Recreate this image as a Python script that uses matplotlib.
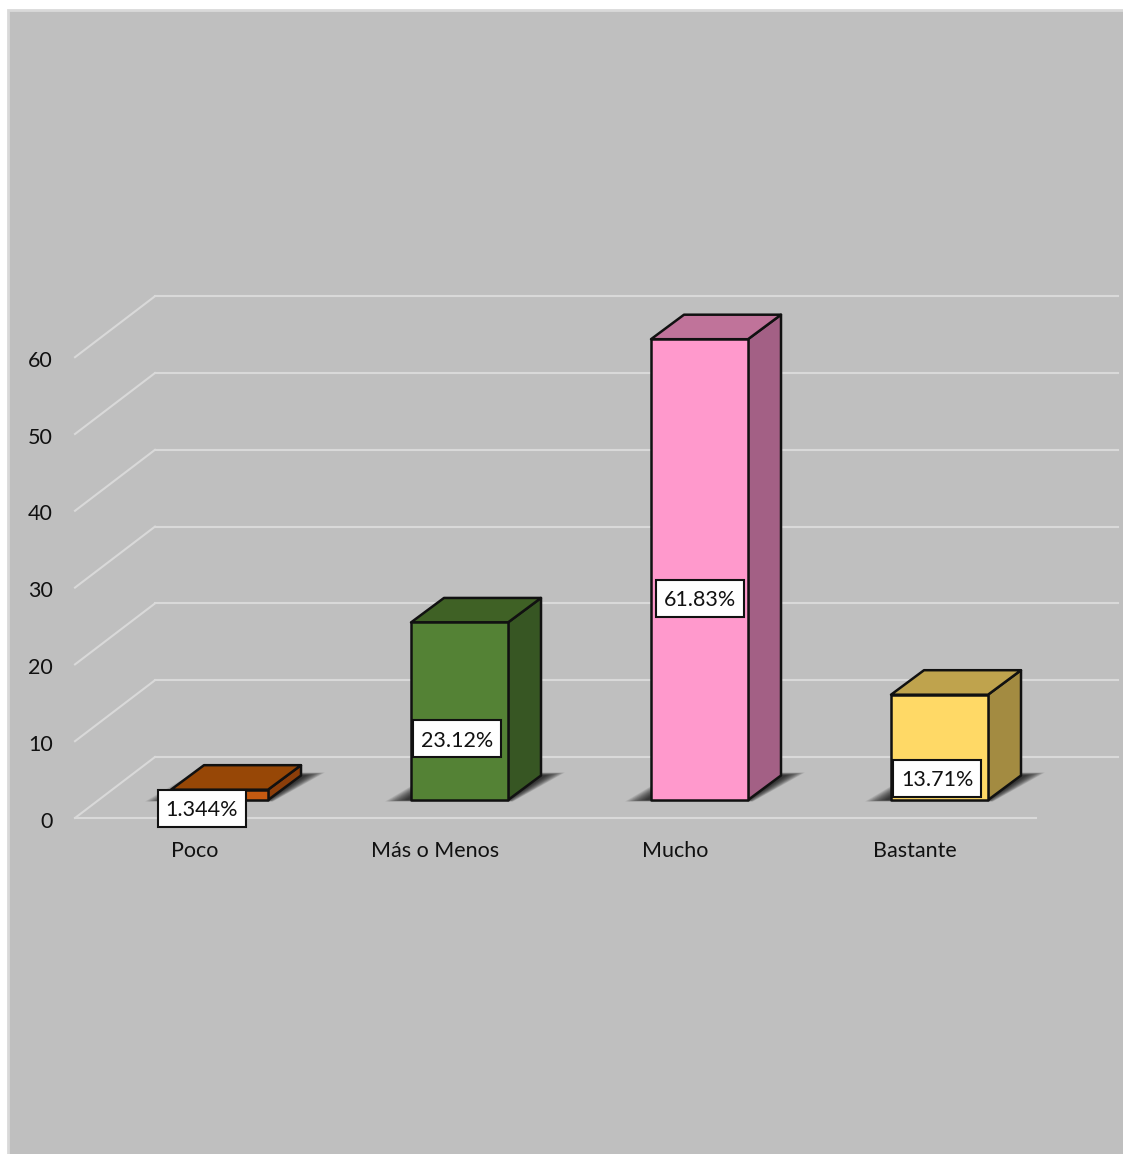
import matplotlib
matplotlib.use("Agg")
import matplotlib.pyplot as plt
from matplotlib.patches import Polygon, Rectangle

plt.rcParams['font.family'] = ['Lato', 'DejaVu Sans']

categories = ["Poco", "Más o Menos", "Mucho", "Bastante"]
values = [1.344, 23.12, 61.83, 13.71]
value_labels = ["1.344%", "23.12%", "61.83%", "13.71%"]
label_heights = [1.3, 10.3, 28.6, 5.2]
label_shift_px = [7, 22, 25, 22]
ticks = [0, 10, 20, 30, 40, 50, 60]
axis_max = 60

front_colors = ["#C55A11", "#548235", "#FF99CC", "#FFD966"]
top_colors = ["#974706", "#3F6125", "#C0739A", "#BFA34D"]
side_colors = ["#8B3E0A", "#375623", "#A36085", "#A38B41"]

W, H = 1123, 1154
X0, STEP = 195, 240     # pixel of first category, pixels per category
Y0, UNIT = 818, 7.68    # pixel of value 0, pixels per value unit
GRID = "#D9D9D9"
BG = "#BFBFBF"
TEXT = "#111111"

fig = plt.figure(figsize=(W / 100, H / 100), dpi=100, facecolor="white")
fig.add_artist(Rectangle((8 / W, -0.01), 1.01, (H - 10) / H + 0.01, transform=fig.transFigure,
                         facecolor=BG, edgecolor=GRID, linewidth=2, zorder=-1))
ax = fig.add_axes([0, 0, 1, 1], facecolor="none")
ax.set_xlim((0 - X0) / STEP, (W - X0) / STEP)
ax.set_ylim((Y0 - H) / UNIT, Y0 / UNIT)
ax.axis("off")

px = 1 / STEP
py = 1 / UNIT
DX, DY = 33, 24.5          # depth of the 3-D projection, px
WALL_DX, WALL_DY = 80, 61  # wall depth, px
BAR_W = 97
BAR_SHIFT = 24.5
BASE = 18
TEXT_DROP = 2 * py

xa = -120 * px             # front-left axis position
# walls and floor
for t in ticks:
    ax.plot([xa, xa + WALL_DX * px], [t, t + WALL_DY * py], color=GRID, lw=1.5, zorder=1)
    ax.plot([xa + WALL_DX * px, (1118 - X0) * px], [t + WALL_DY * py] * 2, color=GRID, lw=1.5, zorder=1)
    ax.text(xa - 22 * px, t - 0.2 - TEXT_DROP, str(t), ha="right", va="center", fontsize=15.5, color=TEXT)
ax.plot([xa, (1036 - X0) * px], [0, 0], color=GRID, lw=1.5, zorder=1)

for i, cat in enumerate(categories):
    ax.text(i, -33 * py, cat, ha="center", va="center", fontsize=15.5, color=TEXT)

    v = min(values[i], axis_max)
    cx = i + BAR_SHIFT * px
    l, r = cx - BAR_W / 2 * px, cx + BAR_W / 2 * px
    b = BASE * py
    t = b + v
    ddx, ddy = DX * px, DY * py

    # soft shadow: stacked translucent shapes growing outward
    n = 16
    for k in range(n):
        f = (k + 1) / n
        shadow = [(l - (4 + 22 * f) * px, b - 1.5 * f * py),
                  (r + 5 * f * px, b - 1.5 * f * py),
                  (r + ddx + (4 + 20 * f) * px, b + ddy + (3 * f) * py),
                  (l + ddx - 10 * f * px, b + ddy + (3 * f) * py)]
        ax.add_patch(Polygon(shadow, closed=True, facecolor="black", alpha=0.07,
                             edgecolor="none", zorder=2))

    ek = dict(edgecolor=TEXT, linewidth=1.8, joinstyle="round", zorder=3)
    ax.add_patch(Polygon([(r, b), (r + ddx, b + ddy), (r + ddx, t + ddy), (r, t)],
                         closed=True, facecolor=side_colors[i], **ek))
    ax.add_patch(Polygon([(l, t), (r, t), (r + ddx, t + ddy), (l + ddx, t + ddy)],
                         closed=True, facecolor=top_colors[i], **ek))
    ax.add_patch(Polygon([(l, b), (r, b), (r, t), (l, t)],
                         closed=True, facecolor=front_colors[i], **ek))

    # data label
    lx = i + label_shift_px[i] * px
    ly = label_heights[i]
    ax.add_patch(Rectangle((lx - 44 * px, ly - 18.5 * py), 88 * px, 37 * py,
                           facecolor="white", edgecolor=TEXT, linewidth=1.5, zorder=4))
    ax.text(lx, ly - TEXT_DROP, value_labels[i], ha="center", va="center", fontsize=15.5,
            color=TEXT, zorder=5)

fig.savefig("out.png", dpi=100, facecolor="white")
